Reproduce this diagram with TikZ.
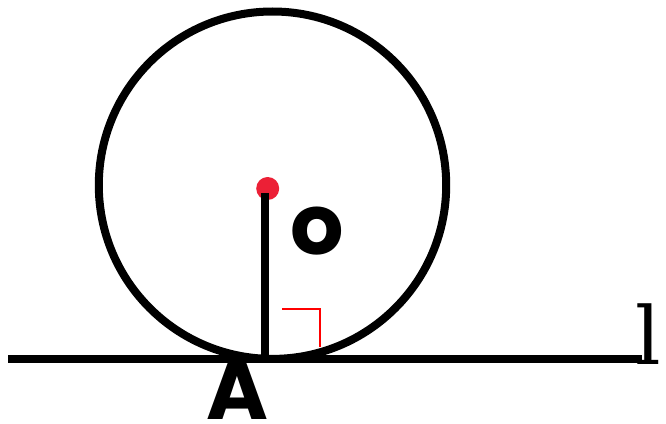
\documentclass[tikz,border=0pt]{standalone}
\usepackage{fontspec}
\newfontfamily\popfont{Poppins}
\newfontfamily\serifl{DejaVu Serif}
\definecolor{dotred}{RGB}{236,32,54}
\definecolor{markred}{RGB}{255,0,0}
\tikzset{
  thick line/.style={line width=8pt, black},
  labelsans/.style={inner sep=0pt, font=\popfont\bfseries\fontsize{84}{84}\selectfont},
  labelserif/.style={inner sep=0pt, font=\serifl\fontsize{80}{80}\selectfont},
  rightmark/.style={line width=2.6pt, markred},
}
\begin{document}
\begin{tikzpicture}[x=1pt, y=-1pt]
\useasboundingbox (0,0) rectangle (666,423);
% circle
\coordinate (C) at (272.5,185.2);
\draw[thick line] (C) circle[radius=173.7pt];
% tangent line
\coordinate (L0) at (8,359);
\coordinate (L1) at (642,359);
\draw[thick line] (L0) -- (L1);
% center dot and radius
\coordinate (Odot) at (267.7,188.5);
\fill[dotred] (Odot) circle[radius=11.5pt];
\coordinate (Rtop) at (265,193);
\coordinate (A) at (265,359);
\draw[thick line] (Rtop) -- (A);
% right angle mark
\coordinate (M1) at (282,309);
\coordinate (M2) at (320,309);
\coordinate (M3) at (320,347);
\draw[rightmark] (M1) -- (M2) -- (M3);
% labels
\node[labelsans, anchor=center] (olabel) at (317.5,231) {o};
\node[labelsans, anchor=base] (alabel) at (237,419) {A};
\node[labelserif, anchor=base west] (llabel) at (635,364) {l};
\end{tikzpicture}
\end{document}
